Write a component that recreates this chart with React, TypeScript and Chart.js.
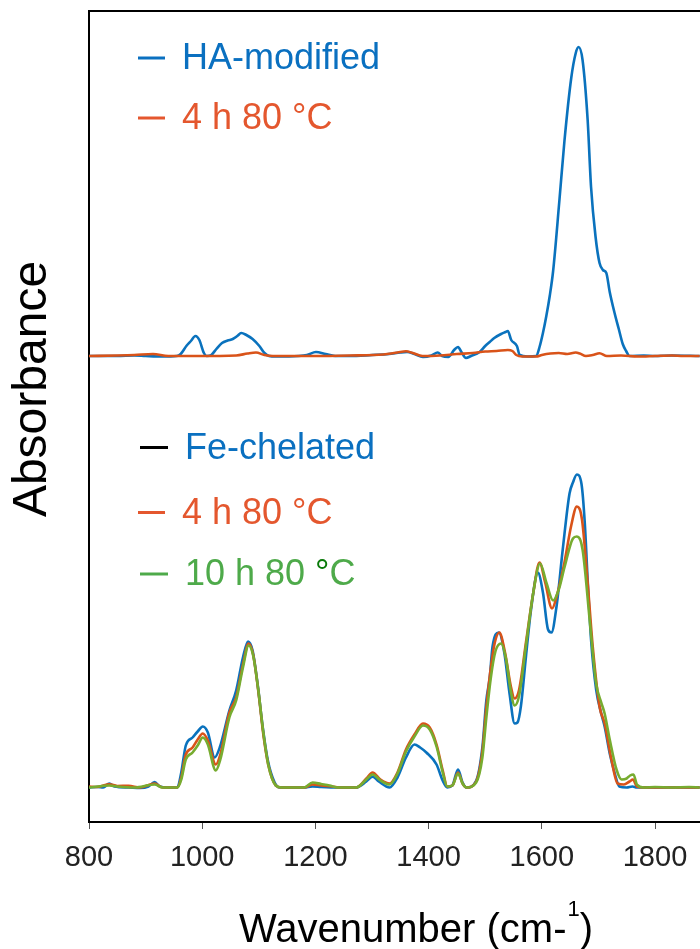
import React, { useEffect, useRef } from "react";
import { Chart, registerables } from "chart.js";

Chart.register(...registerables);

// ---------- data (absorbance, arbitrary units; baseline = 0) ----------
const X_TICKS = [800, 1000, 1200, 1400, 1600, 1800];
const X_MIN = 800;
const X_MAX = 1879.5;
const Y_MIN = -0.345;
const Y_MAX = 7.765;
const TOP_OFFSET = 4.315;

// Top group: HA-modified
const HA_WN = [800, 850, 880, 900, 930, 955, 962, 972, 980, 988, 995, 1003, 1008, 1016, 1025, 1035, 1045, 1054, 1062, 1069, 1078, 1089, 1101, 1110, 1118, 1130, 1170, 1185, 1201, 1218, 1235, 1260, 1300, 1330, 1350, 1362, 1375, 1390, 1405, 1416, 1424, 1435, 1445, 1452, 1458, 1466, 1475, 1490, 1500, 1508, 1516, 1528, 1536, 1540, 1546, 1556, 1561, 1575, 1590, 1596, 1602, 1608, 1614, 1620, 1631, 1640, 1652, 1660, 1665, 1672, 1681, 1687, 1695, 1702, 1708, 1714, 1720, 1729, 1736, 1743, 1749, 1755, 1780, 1800, 1830, 1879];
const HA_ABS = [0, 0, 0.005, 0, -0.005, 0, 0.02, 0.1, 0.15, 0.2, 0.16, 0.03, 0, 0.01, 0.07, 0.13, 0.155, 0.17, 0.2, 0.23, 0.21, 0.17, 0.1, 0.03, 0, -0.005, 0, 0.01, 0.04, 0.02, 0, 0, 0.01, 0.02, 0.035, 0.04, 0.02, -0.01, 0.005, 0.035, 0, -0.01, 0.06, 0.09, 0.04, -0.02, 0, 0.04, 0.1, 0.14, 0.18, 0.22, 0.24, 0.25, 0.16, 0.1, 0.01, -0.005, 0, 0.09, 0.23, 0.4, 0.6, 0.85, 1.55, 2.15, 2.78, 3.03, 3.09, 2.96, 2.36, 1.69, 1.19, 0.93, 0.86, 0.83, 0.64, 0.42, 0.27, 0.12, 0.05, 0, 0.005, 0, 0.005, 0];

// Top group: HA-modified after 4 h 80 °C
const HA4_WN = [800, 850, 880, 913, 940, 990, 1060, 1080, 1095, 1110, 1125, 1200, 1260, 1320, 1345, 1360, 1372, 1389, 1420, 1450, 1478, 1500, 1520, 1540, 1548, 1555, 1565, 1590, 1600, 1615, 1630, 1645, 1660, 1667, 1678, 1690, 1702, 1715, 1740, 1770, 1800, 1830, 1850, 1879];
const HA4_ABS = [0, 0.005, 0.01, 0.02, 0, 0, 0.005, 0.025, 0.035, 0.01, 0, 0, 0.005, 0.015, 0.035, 0.047, 0.03, 0, 0.005, 0.02, 0.03, 0.045, 0.05, 0.06, 0.05, 0.01, -0.005, -0.005, 0.01, 0.025, 0.03, 0.02, 0.035, 0.025, 0, 0.01, 0.027, 0, 0.005, -0.005, 0, 0.005, 0, 0];

// Bottom group: Fe-chelated
const FE_WN = [800, 815, 825, 836, 845, 870, 890, 905, 916, 925, 940, 956, 963, 971, 983, 992, 1001, 1010, 1022, 1031, 1048, 1060, 1072, 1081, 1089, 1098, 1107, 1116, 1128, 1137, 1180, 1195, 1210, 1240, 1272, 1290, 1301, 1312, 1331, 1345, 1360, 1375, 1385, 1396, 1414, 1425, 1433, 1442, 1452, 1460, 1467, 1484, 1495, 1502, 1508, 1513, 1524, 1534, 1543, 1552, 1557, 1563, 1572, 1581, 1593, 1602, 1611, 1617, 1626, 1637, 1649, 1655, 1662, 1670, 1676, 1681, 1687, 1696, 1705, 1711, 1720, 1729, 1737, 1750, 1760, 1768, 1800, 1879];
const FE_ABS = [0, 0.005, 0, 0.04, 0.01, 0, -0.005, 0.01, 0.055, 0.01, 0, 0, 0.15, 0.42, 0.5, 0.56, 0.61, 0.55, 0.3, 0.4, 0.77, 0.97, 1.3, 1.46, 1.37, 1.03, 0.6, 0.27, 0.05, 0, 0, 0.01, 0.005, 0, 0, 0.06, 0.107, 0.06, 0, 0.1, 0.3, 0.43, 0.4, 0.35, 0.23, 0.067, 0, 0.02, 0.18, 0.05, 0, 0.067, 0.4, 0.87, 1.1, 1.41, 1.55, 1.34, 0.94, 0.64, 0.65, 0.81, 1.31, 1.78, 2.15, 1.95, 1.58, 1.55, 1.81, 2.38, 2.94, 3.05, 3.13, 3.04, 2.64, 2.08, 1.48, 0.98, 0.74, 0.61, 0.34, 0.14, 0.01, 0, 0.01, 0, 0, 0];

// Bottom group: Fe-chelated after 4 h 80 °C
const FE4_WN = [800, 815, 836, 850, 870, 890, 916, 930, 956, 963, 971, 983, 992, 1001, 1010, 1024, 1032, 1048, 1060, 1072, 1082, 1090, 1099, 1108, 1117, 1130, 1140, 1180, 1195, 1210, 1230, 1245, 1272, 1290, 1301, 1315, 1331, 1345, 1360, 1375, 1390, 1402, 1414, 1425, 1433, 1442, 1452, 1460, 1467, 1484, 1495, 1502, 1510, 1517, 1525, 1535, 1545, 1552, 1560, 1572, 1585, 1596, 1606, 1618, 1628, 1640, 1652, 1662, 1671, 1681, 1690, 1702, 1711, 1723, 1734, 1745, 1755, 1761, 1768, 1780, 1879];
const FE4_ABS = [0.01, 0.005, 0.033, 0.015, 0.017, 0, 0.04, 0, 0, 0.1, 0.33, 0.4, 0.48, 0.54, 0.47, 0.23, 0.33, 0.75, 0.9, 1.23, 1.44, 1.33, 0.97, 0.53, 0.22, 0.02, 0, 0, 0.03, 0.02, 0.01, 0, 0, 0.09, 0.15, 0.08, 0.04, 0.15, 0.38, 0.53, 0.64, 0.6, 0.43, 0.17, 0.01, 0.02, 0.15, 0.04, 0, 0.06, 0.36, 0.8, 1.2, 1.45, 1.55, 1.35, 1.02, 0.89, 0.98, 1.45, 1.95, 2.25, 2.05, 1.79, 1.95, 2.25, 2.62, 2.81, 2.68, 2.05, 1.41, 0.81, 0.64, 0.28, 0.04, 0.03, 0.06, 0.08, 0.01, 0, 0];

// Bottom group: Fe-chelated after 10 h 80 °C
const FE10_WN = [800, 836, 850, 880, 916, 930, 956, 963, 971, 983, 992, 1001, 1010, 1024, 1032, 1048, 1060, 1072, 1082, 1090, 1099, 1108, 1117, 1130, 1140, 1180, 1195, 1210, 1225, 1240, 1272, 1290, 1301, 1315, 1331, 1345, 1360, 1375, 1390, 1402, 1414, 1425, 1433, 1442, 1452, 1460, 1467, 1484, 1495, 1502, 1510, 1518, 1528, 1537, 1545, 1552, 1560, 1572, 1585, 1597, 1608, 1620, 1630, 1640, 1655, 1662, 1672, 1685, 1696, 1705, 1711, 1720, 1732, 1741, 1750, 1756, 1762, 1768, 1780, 1800, 1830, 1860, 1879];
const FE10_ABS = [0, 0.02, 0.01, 0, 0.03, 0, 0, 0.08, 0.28, 0.35, 0.42, 0.5, 0.43, 0.17, 0.28, 0.7, 0.87, 1.2, 1.42, 1.32, 0.98, 0.55, 0.22, 0.02, 0, 0, 0.05, 0.035, 0.02, 0, 0, 0.08, 0.13, 0.07, 0.03, 0.14, 0.36, 0.51, 0.62, 0.58, 0.41, 0.15, 0.01, 0.02, 0.14, 0.04, 0, 0.05, 0.3, 0.7, 1.1, 1.36, 1.44, 1.28, 0.97, 0.82, 0.92, 1.42, 1.95, 2.24, 2.05, 1.87, 1.98, 2.2, 2.49, 2.51, 2.38, 1.65, 1.04, 0.85, 0.74, 0.48, 0.18, 0.08, 0.09, 0.12, 0.13, 0.03, 0, 0.005, 0, 0.005, 0];

const LINE_BLUE = "#0a72bd";
const LINE_ORANGE = "#d95319";
const LINE_GREEN = "#77ac30";
const TXT_BLUE = "#0a70c0";
const TXT_ORANGE = "#e4572e";
const TXT_GREEN = "#4eaa4a";
const TXT_DEG_GREEN = "#0a7a0a";
const FONT = '"Liberation Sans", Arial, Helvetica, sans-serif';

function pts(wn: number[], ab: number[], off: number) {
  return wn.map((w, i) => ({ x: w, y: ab[i] + off }));
}

const decorPlugin = {
  id: "decor",
  afterDraw(chart: any) {
    const { ctx, chartArea } = chart;
    ctx.save();
    // top frame line
    ctx.strokeStyle = "#000";
    ctx.lineWidth = 2;
    ctx.beginPath();
    ctx.moveTo(chartArea.left - 1, chartArea.top);
    ctx.lineTo(chartArea.right, chartArea.top);
    ctx.stroke();

    // y title
    ctx.save();
    ctx.translate(33, 389);
    ctx.rotate(-Math.PI / 2);
    ctx.font = `48px ${FONT}`;
    ctx.fillStyle = "#000";
    ctx.textAlign = "center";
    ctx.textBaseline = "middle";
    ctx.fillText("Absorbance", 0, 0);
    ctx.restore();

    // x title with superscript
    ctx.fillStyle = "#000";
    ctx.textAlign = "left";
    ctx.textBaseline = "alphabetic";
    ctx.font = `40px ${FONT}`;
    const main = "Wavenumber (cm-";
    const x0 = 239;
    ctx.fillText(main, x0, 942);
    let x = x0 + ctx.measureText(main).width;
    ctx.font = `22px ${FONT}`;
    ctx.fillText("1", x + 1, 916);
    x += ctx.measureText("1").width + 1;
    ctx.font = `40px ${FONT}`;
    ctx.fillText(")", x, 942);

    // legends
    const dash = (x1: number, x2: number, y: number, c: string) => {
      ctx.strokeStyle = c;
      ctx.lineWidth = 3;
      ctx.beginPath();
      ctx.moveTo(x1, y);
      ctx.lineTo(x2, y);
      ctx.stroke();
    };
    ctx.font = `36px ${FONT}`;
    dash(138, 165, 58, TXT_BLUE);
    ctx.fillStyle = TXT_BLUE;
    ctx.fillText("HA-modified", 182, 69);
    dash(138, 165, 118, TXT_ORANGE);
    ctx.fillStyle = TXT_ORANGE;
    ctx.fillText("4 h 80 °C", 182, 128.5);

    dash(140, 168, 447.5, "#000");
    ctx.fillStyle = TXT_BLUE;
    ctx.fillText("Fe-chelated", 185, 458.5);
    dash(138, 165, 512.5, TXT_ORANGE);
    ctx.fillStyle = TXT_ORANGE;
    ctx.fillText("4 h 80 °C", 182, 524);
    dash(140, 168, 574, TXT_GREEN);
    ctx.fillStyle = TXT_GREEN;
    const p1 = "10 h 80 ";
    ctx.fillText(p1, 185, 585);
    let gx = 185 + ctx.measureText(p1).width;
    ctx.fillStyle = TXT_DEG_GREEN;
    ctx.fillText("°", gx, 585);
    gx += ctx.measureText("°").width;
    ctx.fillStyle = TXT_GREEN;
    ctx.fillText("C", gx, 585);
    ctx.restore();
  },
};

export default function App() {
  const ref = useRef<HTMLCanvasElement>(null);
  useEffect(() => {
    document.body.style.margin = "0";
    const canvas = ref.current!;
    const ds = (label: string, wn: number[], ab: number[], off: number, color: string, order: number) => ({
      label,
      data: pts(wn, ab, off),
      borderColor: color,
      backgroundColor: color,
      borderWidth: 2.6,
      pointRadius: 0,
      cubicInterpolationMode: "monotone" as const,
      fill: false,
      order,
    });
    const chart = new Chart(canvas, {
      type: "line",
      data: {
        datasets: [
          ds("HA-modified", HA_WN, HA_ABS, TOP_OFFSET, LINE_BLUE, 4),
          ds("HA-modified 4 h 80 °C", HA4_WN, HA4_ABS, TOP_OFFSET, LINE_ORANGE, 3),
          ds("Fe-chelated", FE_WN, FE_ABS, 0, LINE_BLUE, 2),
          ds("Fe-chelated 4 h 80 °C", FE4_WN, FE4_ABS, 0, LINE_ORANGE, 1),
          ds("Fe-chelated 10 h 80 °C", FE10_WN, FE10_ABS, 0, LINE_GREEN, 0),
        ],
      },
      options: {
        responsive: false,
        animation: false,
        devicePixelRatio: 1,
        layout: { padding: { top: 11, left: 0, right: 0, bottom: 0 }, autoPadding: false },
        plugins: { legend: { display: false }, tooltip: { enabled: false }, title: { display: false } },
        scales: {
          x: {
            type: "linear",
            min: X_MIN,
            max: X_MAX,
            afterBuildTicks: (s: any) => {
              s.ticks = X_TICKS.map((v) => ({ value: v }));
            },
            afterFit: (s: any) => {
              s.height = 127;
            },
            grid: { display: true, drawOnChartArea: false, drawTicks: true, tickLength: 7, color: "#555", lineWidth: 1 },
            border: { display: true, color: "#000", width: 2 },
            ticks: {
              font: { size: 29, family: FONT },
              color: "#222",
              padding: 12,
              maxRotation: 0,
              autoSkip: false,
              callback: (v: any) => String(v),
            },
          },
          y: {
            type: "linear",
            min: Y_MIN,
            max: Y_MAX,
            afterFit: (s: any) => {
              s.width = 89;
            },
            grid: { display: false },
            border: { display: true, color: "#000", width: 2 },
            ticks: { display: false },
          },
        },
      },
      plugins: [decorPlugin],
    } as any);
    return () => chart.destroy();
  }, []);
  return (
    <div style={{ width: 700, height: 949 }}>
      <canvas ref={ref} width={700} height={949} style={{ display: "block" }} />
    </div>
  );
}
